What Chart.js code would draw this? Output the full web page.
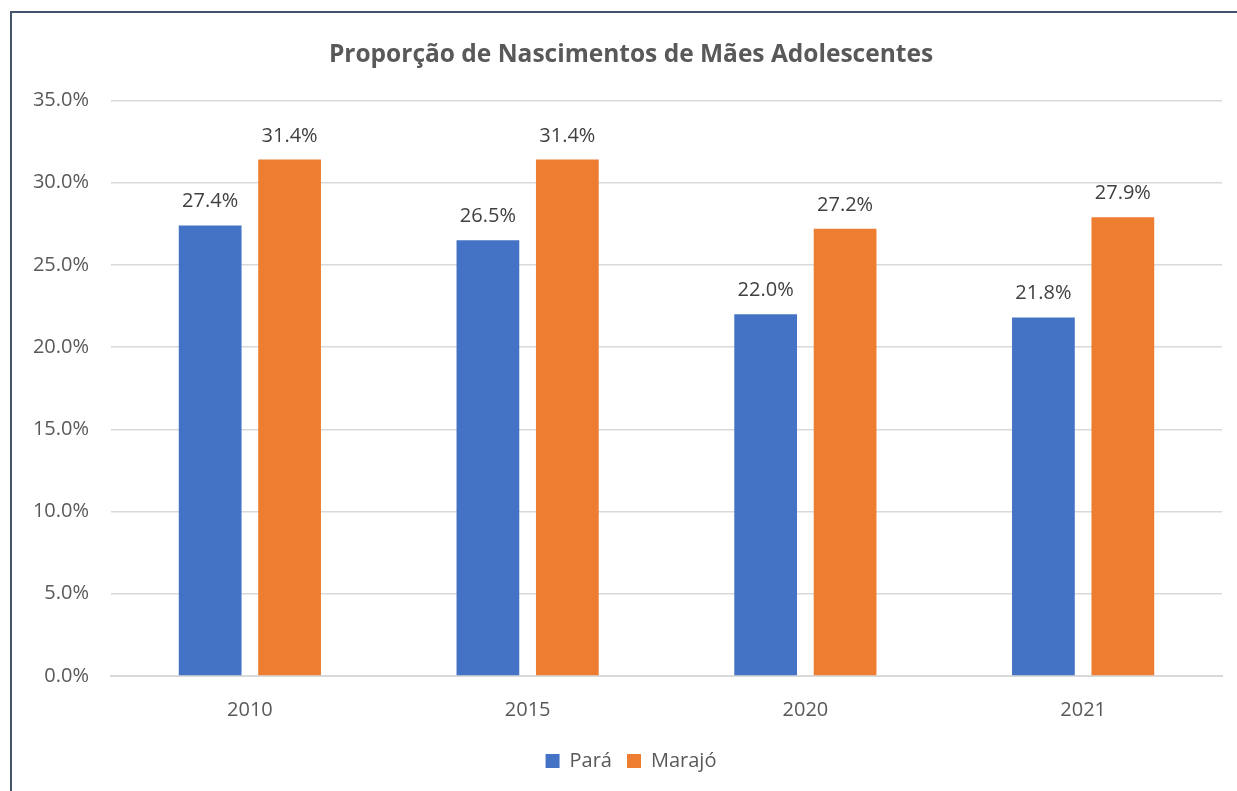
<!DOCTYPE html>
<html lang="pt">
<head>
<meta charset="UTF-8">
<title>Proporção de Nascimentos de Mães Adolescentes</title>
<script src="https://cdn.jsdelivr.net/npm/chart.js"></script>
<style>
body {
    margin: 0;
    padding: 0;
    background: #ffffff;
    overflow: hidden;
}
.frame {
    position: absolute;
    left: 10px;
    top: 11px;
    width: 1260px;
    height: 800px;
    border-left: 2px solid #44546A;
    border-top: 2px solid #44546A;
}
</style>
</head>
<body>
<div class="frame">
    <canvas id="chart" width="1238" height="768"></canvas>
</div>
<script>
const years = ["2010", "2015", "2020", "2021"];
const para = [27.4, 26.5, 22.0, 21.8];
const marajo = [31.4, 31.4, 27.2, 27.9];
const seriesNames = ["Pará", "Marajó"];

const fontFamily = "'Open Sans', 'Liberation Sans', sans-serif";

// draws the value above each bar, like the data labels in the original
const barLabels = {
    id: "barLabels",
    afterDatasetsDraw(chart) {
        const ctx = chart.ctx;
        ctx.save();
        ctx.font = "20px " + fontFamily;
        ctx.fillStyle = "#404040";
        ctx.textAlign = "center";
        ctx.textBaseline = "alphabetic";
        chart.data.datasets.forEach((ds, i) => {
            chart.getDatasetMeta(i).data.forEach((bar, j) => {
                ctx.fillText(ds.data[j].toFixed(1) + "%", bar.x, bar.y - 18);
            });
        });
        ctx.restore();
    }
};

new Chart(document.getElementById("chart"), {
    type: "bar",
    data: {
        labels: years,
        datasets: [
            { label: seriesNames[0], data: para, backgroundColor: "#4472C4" },
            { label: seriesNames[1], data: marajo, backgroundColor: "#ED7D31" }
        ]
    },
    options: {
        responsive: false,
        animation: false,
        datasets: {
            bar: { categoryPercentage: 0.572, barPercentage: 0.79 }
        },
        layout: { padding: 0 },
        plugins: {
            title: {
                display: true,
                text: "Proporção de Nascimentos de Mães Adolescentes",
                color: "#595959",
                font: { family: fontFamily, size: 24.5, weight: "bold" },
                padding: { top: 27, bottom: 31 }
            },
            legend: {
                position: "bottom",
                labels: {
                    color: "#595959",
                    font: { family: fontFamily, size: 20 },
                    boxWidth: 14,
                    boxHeight: 14,
                    padding: 15
                }
            },
            tooltip: { enabled: false }
        },
        scales: {
            x: {
                grid: { display: false },
                border: { color: "#D9D9D9", width: 2 },
                ticks: {
                    color: "#595959",
                    font: { family: fontFamily, size: 20 },
                    padding: 14
                }
            },
            y: {
                min: 0,
                max: 35,
                afterFit(scale) { scale.width = 99; },
                grid: { color: "#D9D9D9", lineWidth: 1.5, drawTicks: false },
                border: { display: false },
                ticks: {
                    stepSize: 5,
                    color: "#595959",
                    font: { family: fontFamily, size: 20 },
                    padding: 22,
                    callback: v => v.toFixed(1) + "%"
                }
            },
            // empty axis on the right, only keeps the plot away from the edge
            yRight: {
                position: "right",
                min: 0,
                max: 35,
                afterFit(scale) { scale.width = 28; },
                grid: { display: false },
                border: { display: false },
                ticks: { display: false }
            }
        }
    },
    plugins: [barLabels]
});
</script>
</body>
</html>
